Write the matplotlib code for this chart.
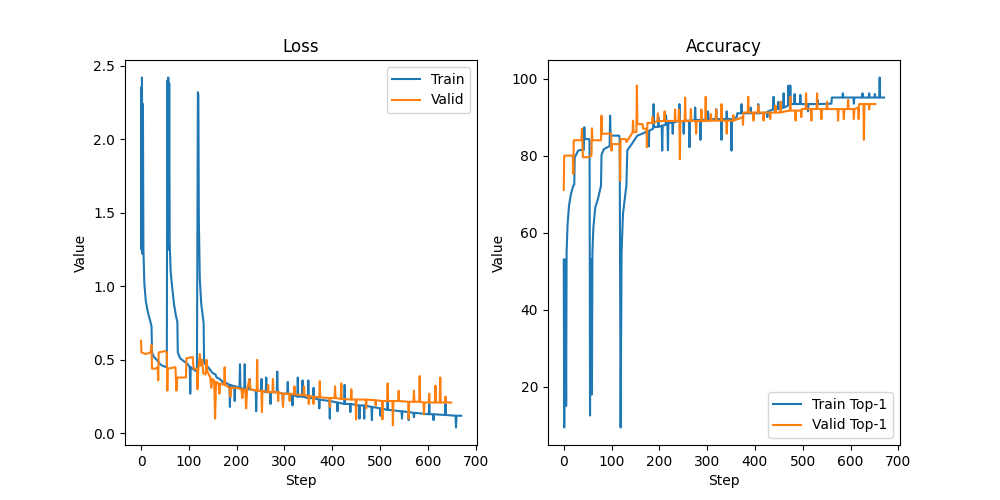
import matplotlib
matplotlib.use("Agg")
import matplotlib.pyplot as plt

# (step, value) points
loss_train = [(0, 2.35), (1, 1.25), (2, 2.42), (3, 1.22), (4, 2.24), (5, 1.25), (7, 1.02), (10, 0.90),
              (14, 0.83), (18, 0.78), (22, 0.73), (23, 0.55), (27, 0.52), (33, 0.50), (40, 0.47), (45, 0.46),
              (53, 0.45), (54, 0.46), (55, 2.40), (56, 1.30), (57, 2.42), (58, 1.25), (59, 2.38), (60, 1.30),
              (62, 1.10), (65, 1.0), (69, 0.88), (73, 0.80), (76, 0.76), (77, 0.55), (82, 0.51), (90, 0.49),
              (98, 0.47), (102, 0.45), (103, 0.27), (104, 0.45), (112, 0.43), (117, 0.42), (119, 2.32),
              (120, 2.30), (121, 1.45), (123, 1.05), (126, 0.88), (129, 0.80), (131, 0.75), (132, 0.48),
              (138, 0.46), (143, 0.44), (145, 0.43), (150, 0.41), (156, 0.40), (158, 0.38), (165, 0.37),
              (171, 0.35), (180, 0.34), (185, 0.33), (186, 0.18), (187, 0.33), (195, 0.32), (196, 0.22),
              (197, 0.32), (206, 0.31), (207, 0.47), (208, 0.31), (216, 0.30), (217, 0.47), (218, 0.30),
              (226, 0.30), (227, 0.37), (228, 0.30), (240, 0.29), (241, 0.15), (242, 0.29), (251, 0.29),
              (252, 0.37), (253, 0.29), (261, 0.28), (262, 0.38), (263, 0.28), (270, 0.28), (271, 0.20),
              (272, 0.28), (284, 0.28), (285, 0.42), (286, 0.28), (296, 0.27), (297, 0.20), (298, 0.27),
              (306, 0.27), (307, 0.35), (308, 0.27), (316, 0.26), (317, 0.19), (318, 0.26), (327, 0.25),
              (328, 0.38), (329, 0.25), (337, 0.25), (338, 0.36), (339, 0.25), (349, 0.24), (350, 0.36),
              (351, 0.24), (360, 0.24), (361, 0.31), (362, 0.24), (372, 0.23), (373, 0.17), (374, 0.23),
              (394, 0.22), (395, 0.10), (396, 0.22), (410, 0.21), (411, 0.15), (412, 0.21), (425, 0.20),
              (426, 0.33), (427, 0.20), (437, 0.20), (438, 0.145), (439, 0.20), (456, 0.19), (457, 0.10),
              (458, 0.19), (466, 0.19), (467, 0.10), (468, 0.19), (482, 0.18), (483, 0.09), (484, 0.18),
              (500, 0.17), (501, 0.12), (502, 0.17), (515, 0.16), (516, 0.22), (517, 0.16), (545, 0.15),
              (546, 0.10), (547, 0.15), (559, 0.145), (560, 0.09), (561, 0.145), (570, 0.14), (571, 0.11),
              (572, 0.14), (602, 0.13), (603, 0.20), (604, 0.13), (611, 0.13), (612, 0.09), (613, 0.13),
              (636, 0.125), (637, 0.20), (638, 0.125), (658, 0.12), (659, 0.04), (660, 0.12), (670, 0.12)]

loss_valid = [(0, 0.63), (1, 0.55), (10, 0.54), (20, 0.55), (22, 0.60), (23, 0.44), (30, 0.44), (35, 0.45),
              (36, 0.36), (37, 0.55), (50, 0.56), (54, 0.55), (55, 0.29), (56, 0.44), (72, 0.45), (74, 0.29),
              (76, 0.38), (94, 0.38), (95, 0.51), (108, 0.52), (110, 0.44), (117, 0.44), (118, 0.30),
              (120, 0.44), (123, 0.54), (125, 0.46), (128, 0.50), (130, 0.41), (135, 0.40), (137, 0.50),
              (139, 0.42), (145, 0.38), (147, 0.31), (149, 0.37), (153, 0.36), (155, 0.10), (157, 0.35),
              (162, 0.34), (164, 0.27), (166, 0.34), (174, 0.33), (175, 0.45), (176, 0.33), (185, 0.31),
              (187, 0.25), (189, 0.31), (200, 0.31), (210, 0.30), (212, 0.24), (214, 0.30), (218, 0.30),
              (220, 0.17), (222, 0.30), (227, 0.37), (229, 0.30), (242, 0.29), (243, 0.50), (244, 0.29),
              (252, 0.29), (253, 0.145), (254, 0.29), (265, 0.28), (266, 0.33), (267, 0.28), (275, 0.28),
              (276, 0.37), (277, 0.28), (286, 0.28), (287, 0.22), (288, 0.28), (296, 0.27), (297, 0.18),
              (298, 0.27), (310, 0.27), (311, 0.22), (312, 0.27), (320, 0.265), (321, 0.32), (322, 0.265),
              (340, 0.26), (341, 0.32), (342, 0.26), (350, 0.255), (351, 0.20), (352, 0.255), (360, 0.25),
              (361, 0.20), (362, 0.25), (373, 0.245), (374, 0.355), (375, 0.245), (394, 0.24), (395, 0.18),
              (396, 0.24), (405, 0.24), (406, 0.32), (407, 0.24), (418, 0.235), (419, 0.34), (420, 0.235),
              (439, 0.23), (440, 0.30), (441, 0.23), (449, 0.23), (450, 0.095), (451, 0.23), (470, 0.23),
              (471, 0.17), (472, 0.23), (490, 0.225), (491, 0.19), (492, 0.225), (504, 0.22), (505, 0.095),
              (506, 0.22), (515, 0.22), (516, 0.34), (517, 0.22), (526, 0.22), (527, 0.055), (528, 0.22),
              (538, 0.22), (539, 0.29), (540, 0.22), (559, 0.215), (560, 0.10), (561, 0.215), (570, 0.215),
              (571, 0.29), (572, 0.215), (582, 0.215), (583, 0.39), (584, 0.215), (591, 0.21), (592, 0.13),
              (593, 0.21), (602, 0.21), (603, 0.27), (604, 0.21), (615, 0.21), (616, 0.325), (617, 0.21),
              (625, 0.21), (626, 0.38), (627, 0.21), (636, 0.21), (637, 0.25), (638, 0.21), (649, 0.21)]

acc_train = [(0, 53), (1, 9.4), (2, 53), (3, 15), (4, 53), (5, 15), (6, 55), (8, 62), (11, 67), (15, 70),
             (20, 72.2), (22, 72.5), (23, 79.5), (27, 80.5), (30, 81.3), (36, 81.5), (42, 81.5), (43, 87.4),
             (44, 84.3), (53, 84.3), (54, 84), (55, 12.5), (56, 53), (57, 18), (58, 53), (59, 18), (60, 55),
             (62, 61.4), (66, 66.6), (71, 68.5), (78, 72.2), (79, 80.2), (84, 81.7), (92, 82.2), (96, 82.5),
             (97, 90.4), (98, 85.2), (116, 85.2), (117, 84.5), (119, 9.4), (121, 55), (124, 65), (128, 69),
             (131, 72.2), (133, 81.4), (140, 82.6), (147, 83.9), (154, 85.2), (164, 85.7), (171, 86.1),
             (177, 86.3), (178, 82.4), (179, 86.5), (187, 87), (188, 93.4), (189, 87.4), (197, 87.5),
             (198, 90), (199, 87.5), (205, 87.8), (206, 81.3), (207, 87.8), (213, 88), (214, 90.5),
             (215, 88.5), (217, 88.5), (218, 81.4), (219, 88.5), (227, 88.6), (228, 85.7), (229, 88.6),
             (241, 89), (242, 93.4), (243, 89), (250, 89), (251, 85.7), (252, 89), (262, 89.1), (263, 82.2),
             (264, 89.1), (274, 89.2), (275, 92.5), (276, 89.2), (285, 89.3), (286, 84.1), (287, 89.3),
             (301, 89.4), (302, 91.5), (303, 89.4), (318, 89.5), (319, 92.1), (320, 89.5), (329, 89.5),
             (330, 84.1), (331, 89.5), (340, 89.5), (341, 91.5), (342, 89.5), (350, 89.5), (351, 81.3),
             (352, 89.5), (362, 90), (363, 91), (371, 91), (372, 93.4), (373, 91), (390, 91), (391, 92.5),
             (392, 91), (406, 91), (407, 93.4), (408, 91), (425, 91.2), (426, 90), (427, 91.5), (438, 92),
             (439, 95.3), (440, 92), (448, 92.1), (449, 94), (450, 92.1), (459, 92.5), (460, 96.2),
             (461, 92.5), (469, 93), (470, 98.2), (471, 93.4), (473, 93.4), (474, 98.2), (475, 93.4),
             (482, 93.4), (483, 96), (484, 93.4), (494, 93.4), (495, 95.8), (496, 93.4), (510, 93.4),
             (511, 91.5), (512, 93.4), (530, 93.4), (531, 94.5), (532, 93.4), (560, 93.5), (561, 95.1),
             (583, 95.1), (584, 96.2), (585, 95.1), (606, 95.1), (607, 93.5), (608, 95.1), (624, 95.1),
             (625, 96.2), (626, 95.1), (638, 95.1), (639, 96.2), (640, 95.1), (650, 95.1), (651, 96),
             (652, 95.1), (660, 95.1), (661, 100.3), (662, 95.1), (670, 95.1)]

acc_valid = [(0, 71.1), (1, 80), (19, 80), (20, 75.2), (21, 84), (37, 84), (38, 87), (39, 84), (40, 79.6),
             (51, 79.6), (58, 80), (59, 87.1), (60, 84), (78, 84), (79, 90.4), (80, 85.7), (99, 85.7),
             (100, 81.3), (101, 83), (117, 83), (118, 73.5), (119, 84.3), (130, 84.3), (131, 83.5), (144, 86),
             (145, 89.1), (146, 86.1), (152, 86.1), (153, 98.2), (154, 88.2), (165, 88.2), (166, 87),
             (173, 87), (174, 82.2), (175, 88.5), (185, 88.5), (186, 90), (187, 88.5), (196, 89), (197, 91),
             (198, 89), (210, 89), (211, 91.5), (212, 89), (232, 89), (233, 92), (234, 89), (240, 89),
             (241, 92), (242, 89), (243, 79.1), (244, 89), (253, 89), (254, 95.1), (255, 89), (265, 89),
             (266, 92.1), (267, 89), (276, 89), (277, 85.7), (278, 89), (287, 89), (288, 92), (289, 89),
             (296, 89), (297, 95.3), (298, 89), (307, 89.1), (308, 90.8), (309, 89.1), (318, 89.1),
             (319, 92), (320, 89.1), (329, 89.1), (330, 93.4), (331, 89.1), (340, 89.1), (341, 85.7),
             (342, 89.1), (354, 89.1), (355, 90.5), (356, 89.1), (374, 90), (375, 88), (376, 91.2),
             (385, 91.2), (386, 95.3), (387, 91.2), (396, 91.2), (397, 89.1), (398, 91.2), (406, 91.2),
             (407, 93), (408, 91.2), (417, 91.2), (418, 89.1), (419, 91.2), (431, 91.2), (432, 89.5),
             (433, 91.2), (442, 91.2), (443, 93), (444, 91.2), (453, 91.2), (454, 94), (455, 91.2),
             (463, 91.5), (473, 91.7), (474, 95.3), (475, 91.7), (484, 91.7), (485, 89.1), (486, 91.7),
             (496, 91.7), (497, 90), (498, 92.1), (506, 92.1), (507, 96.2), (508, 92.1), (517, 92.1),
             (518, 89.1), (519, 92.1), (529, 92.1), (530, 96.2), (531, 92.1), (538, 92.1), (539, 89.5),
             (540, 92.1), (550, 92.1), (551, 94), (552, 92.1), (573, 92.1), (574, 89.1), (575, 92.1),
             (585, 92.1), (586, 89.5), (587, 92.1), (594, 92.1), (595, 94.5), (596, 92.1), (606, 92.1),
             (607, 89.5), (608, 92.1), (616, 92.5), (617, 89.5), (618, 93.4), (627, 93.4), (628, 84.1),
             (629, 93.4), (638, 93.4), (639, 92), (640, 93.4), (652, 93.4)]


def xy(pts):
    return [p[0] for p in pts], [p[1] for p in pts]


fig, (ax1, ax2) = plt.subplots(1, 2, figsize=(10, 5), dpi=100)

ax1.plot(*xy(loss_train), label='Train')
ax1.plot(*xy(loss_valid), label='Valid')
ax1.set_title('Loss')
ax1.set_xlabel('Step')
ax1.set_ylabel('Value')
ax1.legend(loc='upper right')

ax2.plot(*xy(acc_train), label='Train Top-1')
ax2.plot(*xy(acc_valid), label='Valid Top-1')
ax2.set_title('Accuracy')
ax2.set_xlabel('Step')
ax2.set_ylabel('Value')
ax2.legend(loc='lower right')

fig.savefig('out.png')
